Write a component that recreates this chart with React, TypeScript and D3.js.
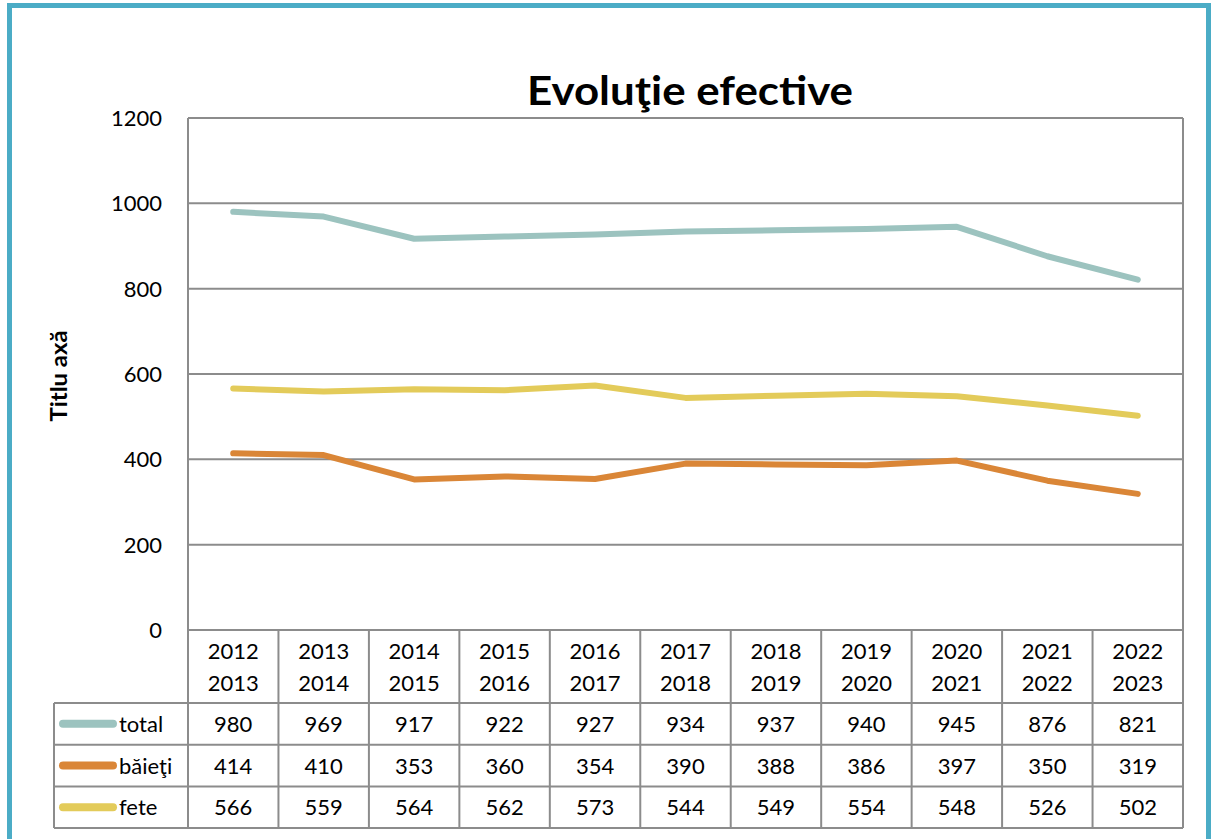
import React from "react";
import * as d3 from "d3";

const categories: string[][] = [
  ["2012", "2013"], ["2013", "2014"], ["2014", "2015"], ["2015", "2016"],
  ["2016", "2017"], ["2017", "2018"], ["2018", "2019"], ["2019", "2020"],
  ["2020", "2021"], ["2021", "2022"], ["2022", "2023"],
];
const total = [980, 969, 917, 922, 927, 934, 937, 940, 945, 876, 821];
const baieti = [414, 410, 353, 360, 354, 390, 388, 386, 397, 350, 319];
const fete = [566, 559, 564, 562, 573, 544, 549, 554, 548, 526, 502];
const yTicks = [0, 200, 400, 600, 800, 1000, 1200];

const series = [
  { name: "total", values: total, color: "#9CC3BF" },
  { name: "băieţi", values: baieti, color: "#DA8637" },
  { name: "fete", values: fete, color: "#E3CB5A" },
];

const FONT = "Lato, 'Open Sans', sans-serif";
const GRID = "#8C8C8C";

export default function App() {
  const left = 188, right = 1183, top = 118, bottom = 630;
  const headerBottom = 703;
  const rowH = 41.7;
  const legendLeft = 54;

  const x = d3.scaleBand<number>().domain(d3.range(categories.length)).range([left, right]);
  const y = d3.scaleLinear().domain([0, 1200]).range([bottom, top]);
  const line = d3.line<number>().x((_, i) => (x(i) as number) + x.bandwidth() / 2).y((d) => y(d));

  const tableBottom = headerBottom + rowH * series.length;

  return (
    <svg width={1211} height={839} style={{ position: "absolute", left: 0, top: 0, background: "#fff" }} fontFamily={FONT}>
      <rect x={9.5} y={5.5} width={1199} height={900} fill="#fff" stroke="#4BACC6" strokeWidth={5} />
      <text x={690} y={105} textAnchor="middle" fontSize={40} fontWeight="bold" fill="#000" textLength={326} lengthAdjust="spacingAndGlyphs">Evoluţie efective</text>
      <text transform={`translate(67,376) rotate(-90)`} textAnchor="middle" fontSize={23} fontWeight="bold" fill="#000" textLength={91} lengthAdjust="spacingAndGlyphs">Titlu axă</text>

      {/* gridlines */}
      {yTicks.map((t) => (
        <g key={t}>
          <line x1={left} x2={right} y1={y(t)} y2={y(t)} stroke={GRID} strokeWidth={2} />
          <text x={162} y={y(t) + 8} textAnchor="end" fontSize={22} fill="#000">{t}</text>
        </g>
      ))}
      <line x1={right} x2={right} y1={top} y2={bottom} stroke={GRID} strokeWidth={2} />

      {/* table */}
      <line x1={left} x2={left} y1={top} y2={tableBottom} stroke={GRID} strokeWidth={2} />
      {categories.map((c, i) => {
        const x0 = x(i) as number;
        const cx = x0 + x.bandwidth() / 2;
        return (
          <g key={i}>
            <line x1={x0 + x.bandwidth()} x2={x0 + x.bandwidth()} y1={bottom} y2={tableBottom} stroke={GRID} strokeWidth={2} />
            <text x={cx} y={659} textAnchor="middle" fontSize={22} fill="#000">{c[0]}</text>
            <text x={cx} y={691} textAnchor="middle" fontSize={22} fill="#000">{c[1]}</text>
          </g>
        );
      })}
      {[0, 1, 2, 3].map((r) => (
        <line key={r} x1={legendLeft} x2={right} y1={headerBottom + r * rowH} y2={headerBottom + r * rowH} stroke={GRID} strokeWidth={2} />
      ))}
      <line x1={legendLeft} x2={legendLeft} y1={headerBottom} y2={tableBottom} stroke={GRID} strokeWidth={2} />
      {series.map((s, r) => {
        const cy = headerBottom + rowH * (r + 0.5);
        return (
          <g key={s.name}>
            <line x1={63} x2={113} y1={cy} y2={cy} stroke={s.color} strokeWidth={8} strokeLinecap="round" />
            <text x={119} y={cy + 8} fontSize={22} fill="#000">{s.name}</text>
            {s.values.map((v, i) => (
              <text key={i} x={(x(i) as number) + x.bandwidth() / 2} y={cy + 8} textAnchor="middle" fontSize={22} fill="#000">{v}</text>
            ))}
          </g>
        );
      })}

      {/* lines */}
      {series.map((s) => (
        <path key={s.name} d={line(s.values) as string} fill="none" stroke={s.color} strokeWidth={6} strokeLinecap="round" strokeLinejoin="round" />
      ))}
    </svg>
  );
}
